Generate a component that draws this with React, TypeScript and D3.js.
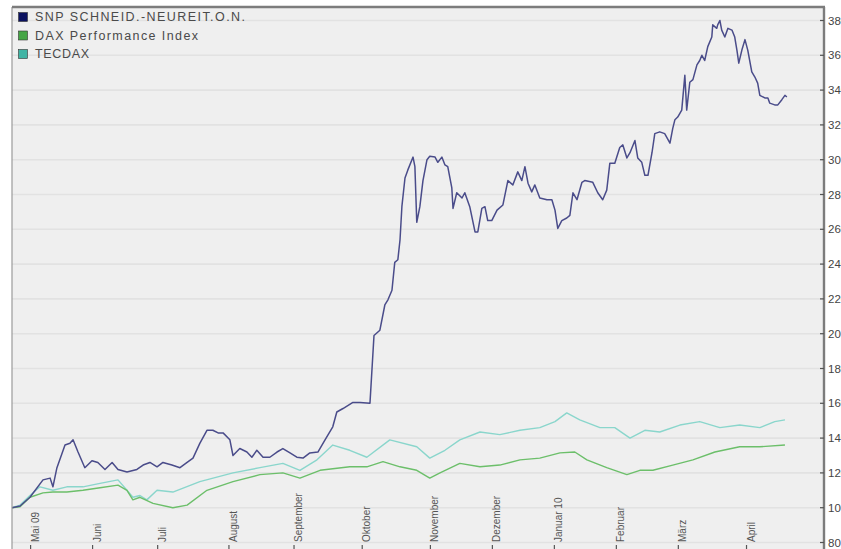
import React from "react";
import * as d3 from "d3";

// x = trading-day index from chart start, values indexed (start = 100)
const snpDay = [0,2.6,5.8,10,12.3,13.2,14.5,17.1,18.7,19.7,21.3,23.5,25.8,27.7,30,32.3,34.2,37.1,40.3,42.3,44.5,46.8,48.7,51.6,54.2,56.5,58.4,60.6,62.9,64.8,66.5,68.1,70.3,71.3,73.5,75.8,77.4,79,81,83.2,85.5,87.4,89.7,91.9,93.9,96.1,98.7,101,103.5,104.8,106.8,110,112.3,115.5,116.8,118.7,120.3,121.3,122.6,123.5,124.5,125.2,125.8,126.8,127.7,129.4,130,130.6,131.6,132.6,133.9,134.8,136.5,137.4,138.7,139.7,140.6,141.9,142.3,143.5,145.2,146.1,147.7,149.4,150.3,151.6,152.6,153.5,154.8,156.5,158.4,160,161.6,163.2,164.5,165.5,166.5,167.7,168.7,170.3,172.6,174.2,175.2,176.1,177.4,179,180,181,182.3,183.9,184.8,187.4,189,190.6,191.9,192.9,194.5,196.1,197.1,198.4,199.4,201,201.9,203.2,204.2,205.2,206.5,207.4,209,210.6,212.3,213.2,213.9,214.8,216.1,217.1,217.7,218.7,219.7,221,221.9,222.6,223.5,224.5,225.8,226.1,227.4,227.7,228.4,229,230,231,232.3,233.2,233.9,234.5,235.5,236.5,237.4,238.7,239.7,240.6,241.3,242.9,243.9,244.5,246.1,247.1,248.4,249.4,250];
const snpValue = [100,101,106,116,117,112,123,136,137,139,132,123,127,126,122,126,122,120.5,122,124.5,126,123.5,126,124.5,123,126,128.5,137,144.5,144.5,143,143,139,130,134,132,129,133,129,129,132,134,131.5,129,128.5,131.5,132,139,146.5,155,157,160.5,160.5,160,199,202,216.5,219.5,225,241,242.5,254,273,289.5,294,301.5,296,264,273,288,300,302,301.5,298.5,301.5,297,296,284,272,281,278,281,273,258.5,258.5,272,273,265,265,271,274,288,285.5,293,288,296,286.5,281.5,285.5,278,277,277,271,260.5,265,266.5,268,281,277,287,288,287,281,277,282.5,298,298,307,308.5,301,304,311,301,298.5,291,291,304,315,316,315,309.5,318,323,324.5,328.5,348.5,328.5,344.5,346,354.5,357,360,357,365,370.5,377.5,375.5,377.5,380,374.5,370.5,375.5,374.5,370.5,363,355.5,363,369,363,350.5,347.5,344,337,335.5,335.5,332.5,331.5,331.5,334.5,337,336];

const daxDay = [0,2.6,5.8,10,13.2,17.7,22.9,28.4,34.2,37.1,39,41.3,45.5,51.9,56.5,62.9,71.3,80,87.4,92.9,99.4,109,114.5,119.7,125.2,130.6,134.8,138.1,144.5,151,157.4,163.9,170.3,176.8,181.6,185.5,191.9,198.4,202.6,206.8,213.2,219.7,226.8,234.8,241.3,249.4];
const daxValue = [100,100.5,106,108.5,109,109,110,111.5,113,110,104.5,106,102.5,100,101.5,110,115,119,120,117,121.5,123.5,123.5,126.5,123.5,121.5,117,120,125.5,123.5,124.5,127.5,128.5,131.5,132,127.5,123,119,121.5,121.5,124.5,127.5,132,135,135,136];

const tecDay = [0,2.6,5.8,9,13.2,17.7,22.9,28.4,34.2,37.1,39,41.3,43.5,46.8,51.9,60.6,71.3,80,87.4,92.9,98.4,103.5,109,114.5,121.9,130.6,134.8,139.7,144.5,151,157.4,163.9,170.3,175.2,179,183.2,189.7,194.5,199.4,204.2,209,215.5,221.9,228.4,234.8,241.3,246.1,249.4];
const tecValue = [100,101.5,107,112,110,112,112,114,116,110,106,107,104.5,110,109,115,120,123,125.5,121.5,127.5,136,133,129,139,135,128.5,133,139,143.5,142,144.5,146,149.5,154.5,150.5,146,146,140,144.5,143.5,147.5,149.5,146,147.5,146,149.5,150.5];

const yTicks = [80,100,120,140,160,180,200,220,240,260,280,300,320,340,360,380];
const monthLabels = ["Mai 09","Juni","Juli","August","September","Oktober","November","Dezember","Januar 10","Februar","März","April"];
const monthDays = [6,26,47,70,91,113,135,155,175,195,215,237];

const legendNames = ["SNP SCHNEID.-NEUREIT.O.N.","DAX Performance Index","TECDAX"];
const legendFill = ["#0b1260","#46a646","#40b4a4"];
const lineColors = ["#4a4c8a","#6cbf6a","#8ad6cc"];
const legendWidths = [210, 163, 54];

const W = 841, H = 549;
const L = 12, R = 824, T = 7, B = 549;

export default function App() {
  const x = d3.scaleLinear().domain([0, 262]).range([L, R]);
  const y = d3.scaleLinear().domain([80, 380]).range([542.5, 20.5]);
  const mk = (days: number[], vals: number[]) =>
    d3.line<number>().x((_, i) => x(days[i])).y((v) => y(v))(vals) || "";
  const series = [
    { d: mk(tecDay, tecValue), c: lineColors[2], w: 1.4 },
    { d: mk(daxDay, daxValue), c: lineColors[1], w: 1.4 },
    { d: mk(snpDay, snpValue), c: lineColors[0], w: 1.5 },
  ];
  return (
    <svg width={W} height={H} style={{ position: "absolute", left: 0, top: 0, background: "#fff" }}
      fontFamily="Liberation Sans, Arial, sans-serif">
      <rect x={L} y={T} width={R - L} height={B - T} fill="#efefef" />
      {yTicks.map((t) => (
        <line key={"g" + t} x1={L} x2={R} y1={y(t)} y2={y(t)} stroke="#e2e2e2" strokeWidth={1.6} />
      ))}
      {series.map((s, i) => (
        <path key={i} d={s.d} fill="none" stroke={s.c} strokeWidth={s.w} strokeLinejoin="round" />
      ))}
      {/* frame */}
      <line x1={L} x2={L} y1={T} y2={B} stroke="#9a9a9a" strokeWidth={1.2} />
      <line x1={L} x2={R + 1} y1={T} y2={T} stroke="#7c7c7c" strokeWidth={2.4} />
      <line x1={R} x2={R} y1={T} y2={B} stroke="#7c7c7c" strokeWidth={2.4} />
      {/* y ticks & labels */}
      {yTicks.map((t) => (
        <g key={"t" + t}>
          <line x1={R - 4} x2={R} y1={y(t)} y2={y(t)} stroke="#555" strokeWidth={1.2} />
          <text x={R + 4} y={y(t)} dy="0.35em" fontSize={11.5} fill="#444">{t}</text>
        </g>
      ))}
      {/* x ticks & labels */}
      {monthDays.map((m, i) => (
        <g key={"m" + m}>
          <line x1={x(m)} x2={x(m)} y1={B} y2={B - 4} stroke="#555" strokeWidth={1.2} />
          <text transform={`translate(${x(m) + 8},${542}) rotate(-90)`} fontSize={10} fill="#555">
            {monthLabels[i]}
          </text>
        </g>
      ))}
      {/* legend */}
      {legendNames.map((n, i) => (
        <g key={n}>
          <rect x={18.5} y={12.5 + i * 18.5} width={9} height={9} fill={legendFill[i]} stroke="#333" strokeWidth={0.6} />
          <text x={35} y={17 + i * 18.5} dy="0.35em" fontSize={12.5} fill="#4a4a4a"
            textLength={legendWidths[i]} lengthAdjust="spacing">{n}</text>
        </g>
      ))}
    </svg>
  );
}
